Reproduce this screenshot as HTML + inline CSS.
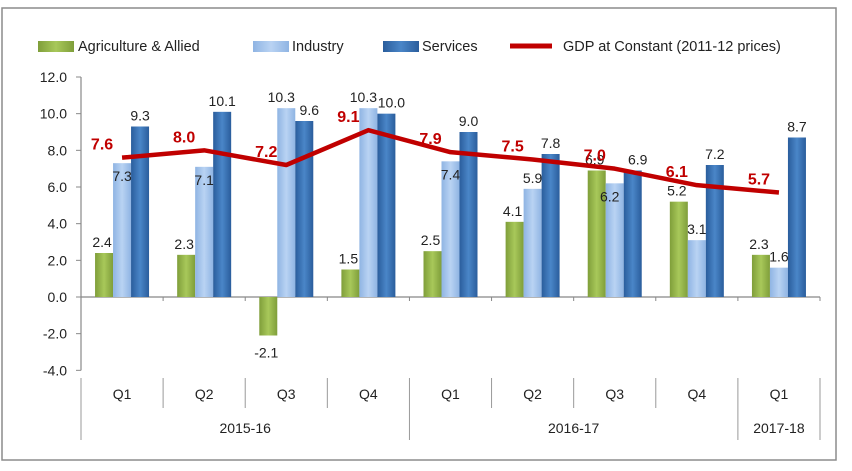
<!DOCTYPE html>
<html><head><meta charset="utf-8"><style>
body{margin:0;background:#fff;font-family:"Liberation Sans",sans-serif;}
svg text{font-family:"Liberation Sans",sans-serif;}
</style></head><body>
<svg id="c" width="852" height="466" xmlns="http://www.w3.org/2000/svg">
<defs>
<linearGradient id="gA" x1="0" x2="1"><stop offset="0" stop-color="#7f9e3a"/><stop offset="0.5" stop-color="#a8c85a"/><stop offset="1" stop-color="#7f9e3a"/></linearGradient>
<linearGradient id="gI" x1="0" x2="1"><stop offset="0" stop-color="#8fb4e3"/><stop offset="0.5" stop-color="#b9d3f3"/><stop offset="1" stop-color="#8fb4e3"/></linearGradient>
<linearGradient id="gS" x1="0" x2="1"><stop offset="0" stop-color="#2a5d9c"/><stop offset="0.5" stop-color="#4a86c8"/><stop offset="1" stop-color="#2a5d9c"/></linearGradient>
</defs>
<rect x="2" y="8" width="834" height="452" fill="#fff" stroke="#8c8c8c" stroke-width="1.5"/>
<g id="legend">
<rect x="38" y="41" width="36" height="11" fill="url(#gA)"/>
<text x="78" y="51" font-size="14.5" fill="#222">Agriculture &amp; Allied</text>
<rect x="253" y="41" width="36" height="11" fill="url(#gI)"/>
<text x="292" y="51" font-size="14.5" fill="#222">Industry</text>
<rect x="383" y="41" width="36" height="11" fill="url(#gS)"/>
<text x="422" y="51" font-size="14.5" fill="#222">Services</text>
<line x1="510" y1="46" x2="552" y2="46" stroke="#c00000" stroke-width="5"/>
<text x="563" y="51" font-size="14.5" fill="#222">GDP at Constant (2011-12 prices)</text>
</g>
<g id="axes"></g><g id="bars"></g><g id="line"></g>
</svg>
<script>
const quarters=["Q1","Q2","Q3","Q4","Q1","Q2","Q3","Q4","Q1"];
const years=["2015-16","2016-17","2017-18"];
const yearSpans=[4,4,1];
const agri=[2.4,2.3,-2.1,1.5,2.5,4.1,6.9,5.2,2.3];
const industry=[7.3,7.1,10.3,10.3,7.4,5.9,6.2,3.1,1.6];
const services=[9.3,10.1,9.6,10.0,9.0,7.8,6.9,7.2,8.7];
const gdp=[7.6,8.0,7.2,9.1,7.9,7.5,7.0,6.1,5.7];
const yTicks=[12,10,8,6,4,2,0,-2,-4];

const NS="http://www.w3.org/2000/svg";
const x0=81,x1=820,yTop=77,yZero=297,pu=(297-77)/12;
const cw=(x1-x0)/quarters.length;
const y=v=>yZero-v*pu;
const cx=i=>x0+cw*(i+0.5);
function mk(tag,attrs,parent,txt){const e=document.createElementNS(NS,tag);for(const k in attrs)e.setAttribute(k,attrs[k]);if(txt!==undefined)e.textContent=txt;parent.appendChild(e);return e;}
const ax=document.getElementById('axes'),bg=document.getElementById('bars'),lg=document.getElementById('line');
let e=mk('line',{x1:x0,y1:y(12),x2:x0,y2:y(-4),stroke:'#888','stroke-width':1.2},ax);

yTicks.forEach(t=>{
 let l=mk('line',{x1:x0-5,x2:x0,y1:y(t),y2:y(t),stroke:'#888'},ax);
 
 let tx=mk('text',{x:x0-14,y:y(t)+5,'text-anchor':'end','font-size':14,fill:'#222'},ax,t.toFixed(1));
 
});
e=mk('line',{x1:x0,x2:x1,y1:yZero,y2:yZero,stroke:'#888','stroke-width':1.2},ax);

quarters.forEach((q,i)=>{
 let t=mk('line',{x1:x0+cw*(i+1),x2:x0+cw*(i+1),y1:yZero,y2:yZero+4,stroke:'#888'},ax);
 
 let tx=mk('text',{x:cx(i),y:399,'text-anchor':'middle','font-size':14,fill:'#222'},ax,q);
 
});
let bIdx=0;const bounds=[0];yearSpans.forEach(s=>{bIdx+=s;bounds.push(bIdx);});
for(let i=0;i<=quarters.length;i++){
 const isYear=bounds.includes(i);
 let l=mk('line',{x1:x0+cw*i,x2:x0+cw*i,y1:378,y2:isYear?440:408,stroke:'#999'},ax);
 
}
years.forEach((yr,j)=>{
 const mid=x0+cw*(bounds[j]+bounds[j+1])/2;
 let tx=mk('text',{x:mid,y:433,'text-anchor':'middle','font-size':14,fill:'#222'},ax,yr);
 
});
const bw=18;
const series=[[agri,'url(#gA)','agriculture'],[industry,'url(#gI)','industry'],[services,'url(#gS)','services']];
quarters.forEach((q,i)=>{
 series.forEach(([arr,fill,nm],k)=>{
  const v=arr[i];const bx=cx(i)-bw*1.5+k*bw;
  const top=Math.min(y(v),yZero),h=Math.abs(y(v)-yZero);
  let r=mk('rect',{x:bx,y:top,width:bw,height:h,fill:fill},bg);
  
  let ly=v>=0?y(v)-6:y(v)+22;
  let dx=k===0?-2:0;
  if(k===1&&(gdp[i]>v-0.6&&gdp[i]<v+1.5))ly=y(v)+18;
  if(k===1&&Math.abs(arr[i]-services[i])<0.8){dx=-5;}
  if(k===2&&Math.abs(industry[i]-v)<0.8){dx=5;}
  let tx=mk('text',{x:bx+bw/2+dx,y:ly,'text-anchor':'middle','font-size':14,fill:'#222'},bg,v.toFixed(1));
  
 });
});
let d=gdp.map((v,i)=>(i?'L':'M')+cx(i)+','+y(v)).join(' ');
let p=mk('path',{d:d,fill:'none',stroke:'#c00000','stroke-width':4.5,'stroke-linejoin':'round'},lg);

gdp.forEach((v,i)=>{
 let tx=mk('text',{x:cx(i)-20,y:y(v)-8,'text-anchor':'middle','font-size':16,'font-weight':'bold',fill:'#c00000'},lg,v.toFixed(1));
 
});
</script>
</body></html>
